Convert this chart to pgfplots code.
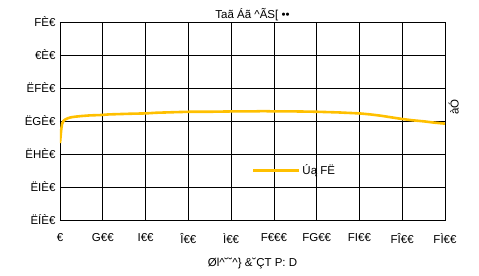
\documentclass[border=0pt]{standalone}
\usepackage{pgfplots}
\pgfplotsset{compat=1.18}
\usepackage{fontspec}
\setmainfont{Liberation Sans}
\definecolor{gold}{HTML}{FFC000}
\begin{document}
\begin{tikzpicture}
\begin{axis}[
  scale only axis,
  width=385pt, height=198pt,
  xmin=0, xmax=1800, ymin=-5, ymax=1,
  xtick={0,200,400,600,800,1000,1200,1400,1600,1800},
  xticklabels={€,G€€,I€€,Î€€,Ì€€,F€€€,FG€€,FI€€,FÎ€€,FÌ€€},
  ytick={-5,-4,-3,-2,-1,0,1},
  yticklabels={ËÍÈ€,ËIÈ€,ËHÈ€,ËGÈ€,ËFÈ€,€È€,FÈ€},
  major tick length=0pt,
  grid=major,
  major grid style={black, line width=0.6pt},
  axis line style={black, line width=0.8pt},
  tick label style={font=\fontsize{11.5}{13}\selectfont},
  xticklabel style={yshift=-10pt},
  yticklabel style={xshift=-1pt},
  title={Taã Áã \^{}ÃS[ ••},
  title style={font=\fontsize{11.5}{13}\selectfont, yshift=-8pt},
  xlabel={Øl\^{}˘˘\^{}\} \&˘ÇT P: D},
  xlabel style={font=\fontsize{11.5}{13}\selectfont, yshift=-7pt},
  ylabel={àÓ},
  every axis y label/.style={at={(rel axis cs:1,0.5)}, anchor=north, rotate=90, font=\fontsize{11.5}{13}\selectfont, xshift=14pt},
  legend style={draw=none, fill=none, at={(rel axis cs:0.49,0.25)}, anchor=west, font=\fontsize{11.5}{13}\selectfont},
  legend cell align=left,
  legend image code/.code={\draw[#1, line width=2.6pt] (0pt,0pt) -- (46pt,0pt);},
]
\addplot[gold, line width=2.6pt] coordinates {
(0,-2.67) (3,-2.45) (6,-2.25) (10,-2.08) (16,-2.00) (23,-1.96) (35,-1.92) (50,-1.89) (70,-1.87) (100,-1.85) (140,-1.83) (187,-1.82) (230,-1.80) (280,-1.79) (330,-1.78) (400,-1.77) (450,-1.75) (500,-1.74) (550,-1.73) (608,-1.72) (700,-1.72) (800,-1.71) (900,-1.71) (950,-1.70) (1000,-1.71) (1100,-1.71) (1200,-1.72) (1300,-1.74) (1400,-1.77) (1450,-1.80) (1500,-1.84) (1550,-1.89) (1600,-1.94) (1650,-1.98) (1700,-2.01) (1750,-2.05) (1800,-2.08)
};
\addlegendentry{Úą FË}
\end{axis}
\path ([xshift=-60pt,yshift=-56pt]current axis.south west) rectangle ([xshift=34pt,yshift=22pt]current axis.north east);
\end{tikzpicture}
\end{document}
